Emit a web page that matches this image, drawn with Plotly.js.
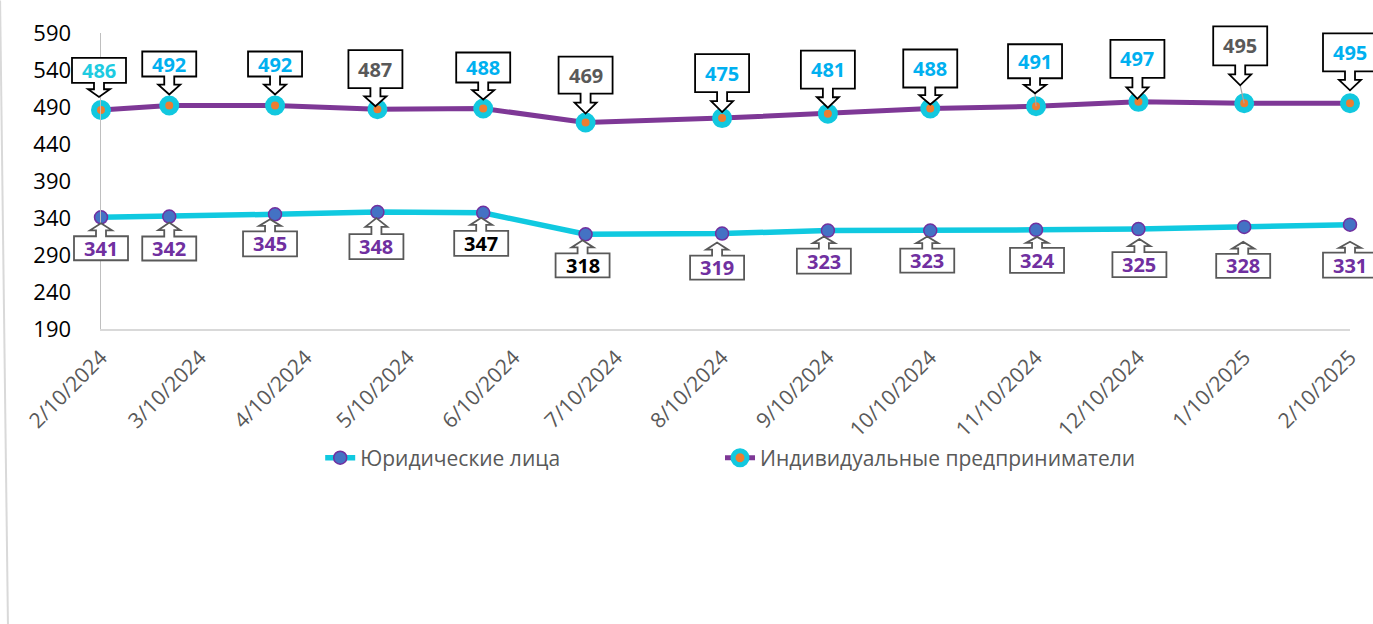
<!DOCTYPE html>
<html><head><meta charset="utf-8">
<script src="https://cdn.plot.ly/plotly-3.0.1.min.js"></script>
<style>html,body{margin:0;padding:0;background:#fff;} #chart{width:1373px;height:624px;}</style>
</head><body><div id="chart"></div>
<script>
// ---- data ----
const dates = ['2024-02-10','2024-03-01','2024-04-01','2024-05-01','2024-06-01','2024-07-01','2024-08-10','2024-09-10','2024-10-10','2024-11-10','2024-12-10','2025-01-10','2025-02-10'];
const legalEntities = [341,342,345,348,347,318,319,323,323,324,325,328,331];
const entrepreneurs = [486,492,492,487,488,469,475,481,488,491,497,495,495];
const tickDates = ['2024-02-10','2024-03-10','2024-04-10','2024-05-10','2024-06-10','2024-07-10','2024-08-10','2024-09-10','2024-10-10','2024-11-10','2024-12-10','2025-01-10','2025-02-10'];
const tickLabels = ['2/10/2024','3/10/2024','4/10/2024','5/10/2024','6/10/2024','7/10/2024','8/10/2024','9/10/2024','10/10/2024','11/10/2024','12/10/2024','1/10/2025','2/10/2025'];
const seriesNames = ['Юридические лица','Индивидуальные предприниматели'];

// ---- label styling (pixel offsets relative to each point: box centre dx, box top, box bottom, arrow tip; up is positive) ----
const upperStyle = [[-2,52,27,13],[0,54,29,11],[0,54,29,11],[-2,59,21,3],[0,56,26,9],[0,66,29,9],[0,64,26,6],[0,63,25,6],[0,59,21,4],[-1,62,28,13],[-1,62,24,3],[-4,77,38,18],[0,70,32,13]];
const upperLeader = [false,false,false,false,false,false,false,false,false,true,false,true,false];
const upperColors = ['#1ECBE1','#00B0F0','#00B0F0','#595959','#00B0F0','#595959','#00B0F0','#00B0F0','#00B0F0','#00B0F0','#00B0F0','#595959','#00B0F0'];
const lowerStyle = [[0,-19,-43,-6],[0,-20,-44,-6],[-5,-17,-42,-5],[-1,-22,-47,-6],[-2,-18,-43,-5],[-3,-19,-43,-6],[-5,-22,-46,-9],[-4,-18,-43,-6],[-3,-18,-42,-6],[1,-18,-43,-7],[1,-23,-48,-10],[-1,-27,-51,-15],[0,-28,-53,-17]];
const lowerColors = ['#7030A0','#7030A0','#7030A0','#7030A0','#000000','#000000','#7030A0','#7030A0','#7030A0','#7030A0','#7030A0','#7030A0','#7030A0'];

const FONT = 'Open Sans, Noto Sans, sans-serif';
const BOXW = 54;

function calloutPath(cx, top, bottom, tip) {
  const L = cx - BOXW/2, R = cx + BOXW/2;
  const upper = tip < bottom;
  const near = upper ? bottom : top;
  const far = upper ? top : bottom;
  const hb = near + (tip - near) * 0.45;
  const s = 5, h = 11;
  const pts = [[L,far],[R,far],[R,near],[cx+s,near],[cx+s,hb],[cx+h,hb],[cx,tip],[cx-h,hb],[cx-s,hb],[cx-s,near],[L,near]];
  return 'M ' + pts.map(p => p[0].toFixed(1) + ' ' + p[1].toFixed(1)).join(' L ') + ' Z';
}

const shapes = [];
const annotations = [];

function addCallouts(values, style, colors, border, leaders) {
  values.forEach((v, i) => {
    const [cx, top, bottom, tip] = style[i];
    if (leaders && leaders[i]) {
      shapes.push({type:'line', xref:'x', yref:'y', xsizemode:'pixel', ysizemode:'pixel',
        xanchor: dates[i], yanchor: v, x0: cx, x1: 0, y0: tip, y1: 0,
        line:{color:'#a6a6a6', width:1.2}, layer:'above'});
    }
    shapes.push({type:'path', xref:'x', yref:'y', xsizemode:'pixel', ysizemode:'pixel',
      xanchor: dates[i], yanchor: v, path: calloutPath(cx, top, bottom, tip),
      fillcolor:'#ffffff', line:{color:border, width:1.8}, layer:'above'});
    annotations.push({x: dates[i], y: v, xref:'x', yref:'y', text: String(v), showarrow:false,
      xshift: cx, yshift: (top + bottom) / 2,
      font:{family:FONT, size:20, color:colors[i], weight:700}});
  });
}
addCallouts(entrepreneurs, upperStyle, upperColors, '#000000', upperLeader);
addCallouts(legalEntities, lowerStyle, lowerColors, '#595959', null);

// left border of the chart area
shapes.push({type:'line', xref:'paper', yref:'paper', x0:-0.0808, x1:-0.0745, y0:1.11, y1:-0.997,
  line:{color:'#d9d9d9', width:2}, layer:'below'});

const traces = [
  {x: dates, y: legalEntities, name: seriesNames[0], legend:'legend', type:'scatter', mode:'lines+markers', cliponaxis:false,
   line:{color:'#10C9E0', width:5.5}, marker:{size:13, color:'#4472C4', line:{color:'#7030A0', width:1.5}}},
  {x: dates, y: entrepreneurs, name: seriesNames[1], legend:'legend2', type:'scatter', mode:'lines+markers', cliponaxis:false,
   line:{color:'#7E3896', width:5}, marker:{size:14, color:'#ED7D31', line:{color:'#12C8DF', width:6}}}
];

const legendBase = {orientation:'h', xanchor:'left', y:-0.436, yanchor:'middle',
  font:{family:FONT, size:21, color:'#595959'}, bgcolor:'rgba(0,0,0,0)'};

const layout = {
  width:1373, height:624,
  margin:{l:101, r:23, t:33, b:295, pad:0},
  paper_bgcolor:'#ffffff', plot_bgcolor:'#ffffff',
  font:{family:FONT, color:'#000'},
  showlegend:true,
  legend: Object.assign({}, legendBase, {x:0.1755}),
  legend2: Object.assign({}, legendBase, {x:0.4956}),
  xaxis:{type:'date', range:[tickDates[0], tickDates[tickDates.length-1]], tickmode:'array', tickvals:tickDates, ticktext:tickLabels,
    tickangle:-45, tickfont:{family:FONT, size:21, color:'#595959'}, showline:true, linecolor:'#d9d9d9', linewidth:2,
    showgrid:false, zeroline:false, ticks:'', ticklabelstandoff:6, fixedrange:true},
  yaxis:{range:[190,590], tick0:190, dtick:50, tickmode:'linear', tickfont:{family:FONT, size:22, color:'#000'},
    showline:true, linecolor:'#bfbfbf', linewidth:1.5, showgrid:false, zeroline:false, ticks:'', ticklabelstandoff:24, fixedrange:true},
  shapes: shapes,
  annotations: annotations
};

function unclip(gd) {
  gd.querySelectorAll('.shapelayer [clip-path], .shapelayer[clip-path]').forEach(el => el.removeAttribute('clip-path'));
}
Plotly.newPlot('chart', traces, layout, {staticPlot:true, displayModeBar:false}).then(gd => {
  // let the callouts extend past the plotting area, as in the original chart
  unclip(gd);
  requestAnimationFrame(() => unclip(gd));
  setTimeout(() => unclip(gd), 50);
});
</script>
</body></html>
